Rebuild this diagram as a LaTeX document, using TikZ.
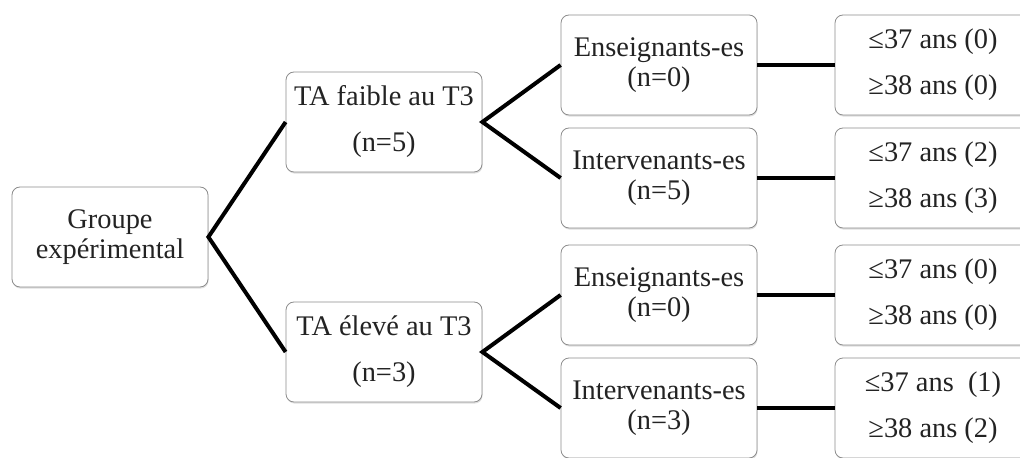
\documentclass[tikz,border=0pt]{standalone}
\usepackage{fontspec}
\setmainfont{Liberation Serif}
\usetikzlibrary{shadows}
\definecolor{boxgray}{RGB}{140,140,140}
\definecolor{txtdark}{RGB}{35,35,35}

\begin{document}
\begin{tikzpicture}[x=0.5pt, y=-0.5pt,
  boite/.style={draw=boxgray, fill=white, rounded corners=4pt, minimum width=98pt,
    minimum height=50pt, inner sep=2pt, align=center, text=txtdark,
    drop shadow={opacity=0.25, shadow xshift=0.3pt, shadow yshift=-0.8pt}},
  serre/.style={font={\fontsize{14.2pt}{15pt}\selectfont}},
  aere/.style={font={\fontsize{14.2pt}{23pt}\selectfont}},
  lien/.style={line width=2pt, black}]
  \useasboundingbox (0,0) rectangle (1020,458);

  % groupe de depart
  \node[boite, serre] (groupe) at (110,237) {Groupe\\expérimental};

  % niveau TA
  \node[boite, aere] (faible) at (384,122) {TA faible au T3\\(n=5)};
  \node[boite, aere] (eleve) at (384,352) {TA élevé au T3\\(n=3)};

  % fonctions
  \node[boite, serre] (ens1) at (659,65) {Enseignants-es\\(n=0)};
  \node[boite, serre] (int1) at (659,178) {Intervenants-es\\(n=5)};
  \node[boite, serre] (ens2) at (659,295) {Enseignants-es\\(n=0)};
  \node[boite, serre] (int2) at (659,408) {Intervenants-es\\(n=3)};

  % ages
  \node[boite, aere] (age1) at (933,65) {≤37 ans (0)\\≥38 ans (0)};
  \node[boite, aere] (age2) at (933,178) {≤37 ans (2)\\≥38 ans (3)};
  \node[boite, aere] (age3) at (933,295) {≤37 ans (0)\\≥38 ans (0)};
  \node[boite, aere] (age4) at (933,408) {≤37 ans~~(1)\\≥38 ans (2)};

  % liens
  \draw[lien] (faible.west) -- (groupe.east) -- (eleve.west);
  \draw[lien] (ens1.west) -- (faible.east) -- (int1.west);
  \draw[lien] (ens2.west) -- (eleve.east) -- (int2.west);
  \draw[lien] (ens1) -- (age1);
  \draw[lien] (int1) -- (age2);
  \draw[lien] (ens2) -- (age3);
  \draw[lien] (int2) -- (age4);
\end{tikzpicture}
\end{document}
